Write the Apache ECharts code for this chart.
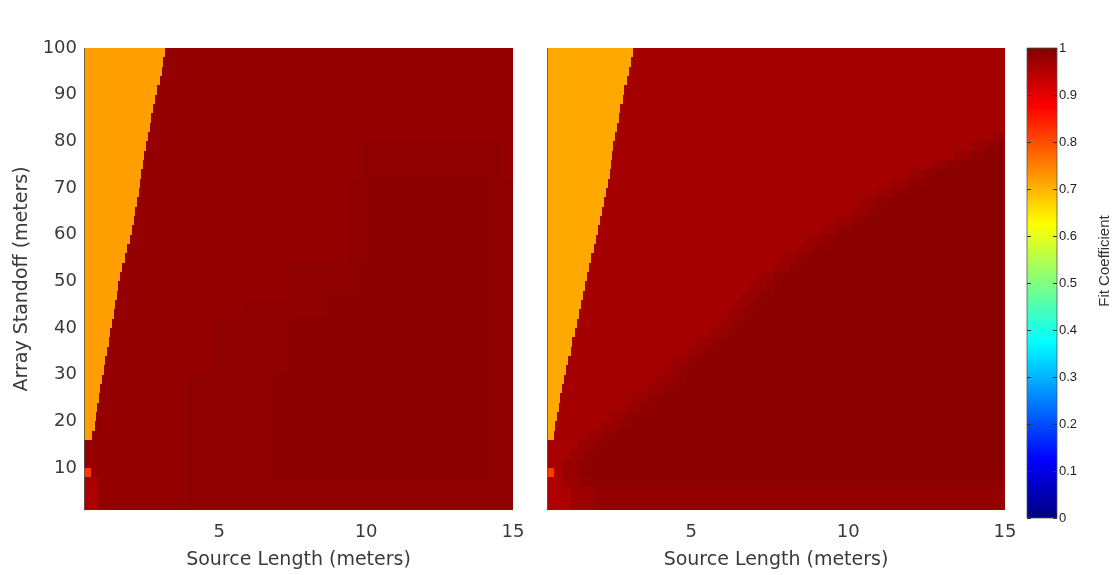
<!DOCTYPE html>
<html>
<head>
<meta charset="utf-8">
<script src="https://cdn.jsdelivr.net/npm/echarts@6/dist/echarts.min.js"></script>
<style>
  html, body { margin: 0; padding: 0; background: #ffffff; }
  #chart { width: 1118px; height: 575px; }
</style>
</head>
<body>
<div id="chart"></div>
<script>
// Sampling grid: source length column centres (m) and array standoff row centres (m, top row first)
const sourceLengths = Array.from({ length: 59 }, (_, i) => 0.5 + 0.25 * i);
const standoffs = Array.from({ length: 50 }, (_, i) => 99 - 2 * i);

// Tick labels
const xTicks = [5, 10, 15];
const yTicks = [10, 20, 30, 40, 50, 60, 70, 80, 90, 100];

// Fit coefficient of the low-fit (orange) zone in each panel
const leftLowFit = 0.72;
const rightLowFit = 0.71;

// Source length (m) where the low-fit zone ends, per standoff row (null: no low-fit zone)
const leftBoundary = [
  3.17, 3.10, 3.04, 2.97, 2.88, 2.82, 2.76, 2.68, 2.63, 2.57,
  2.51, 2.45, 2.41, 2.34, 2.30, 2.27, 2.21, 2.15, 2.09, 2.03,
  1.95, 1.88, 1.79, 1.71, 1.63, 1.57, 1.52, 1.47, 1.41, 1.36,
  1.30, 1.25, 1.19, 1.12, 1.07, 1.00, 0.96, 0.90, 0.85, 0.80,
  0.76, 0.66, null, null, null, null, null, null, null, null
];
const rightBoundary = [
  3.15, 3.09, 3.02, 2.94, 2.87, 2.81, 2.74, 2.69, 2.62, 2.56,
  2.50, 2.47, 2.44, 2.42, 2.35, 2.29, 2.21, 2.15, 2.09, 2.02,
  1.96, 1.89, 1.81, 1.75, 1.67, 1.61, 1.55, 1.48, 1.42, 1.35,
  1.28, 1.21, 1.15, 1.08, 1.02, 0.95, 0.89, 0.83, 0.78, 0.72,
  0.67, 0.61, null, null, null, null, null, null, null, null
];

// Fit coefficient for each level code used in the row strings below
const levelCodes = {
  a: 0.82,
  '0': 0.950, '1': 0.955, '2': 0.960, '3': 0.965, '4': 0.970,
  '5': 0.975, '6': 0.980, '7': 0.985, '8': 0.990, '9': 0.995
};

// Left panel high-fit field: one string per standoff row, runs of "count*code" along source length
const leftRows = [
  "59*6", "59*6", "59*6", "59*6", "59*6",
  "59*6", "59*6", "59*6", "59*6", "59*6",
  "38*6 19*7 2*6", "38*6 19*7 2*6", "38*6 19*7 2*6", "38*6 19*7 2*6",
  "36*6 3*7 16*8 4*7", "36*6 3*7 16*8 4*7", "36*6 3*7 16*8 4*7",
  "36*6 3*7 16*8 4*7", "36*6 3*7 16*8 4*7", "36*6 3*7 16*8 4*7",
  "36*6 3*7 16*8 4*7", "36*6 3*7 16*8 4*7", "36*6 3*7 16*8 4*7",
  "28*6 10*7 17*8 4*7", "28*6 10*7 17*8 4*7", "28*6 10*7 17*8 4*7",
  "28*6 10*7 17*8 4*7",
  "22*6 12*7 21*8 4*7", "22*6 12*7 21*8 4*7",
  "18*6 10*7 27*8 4*7", "18*6 10*7 27*8 4*7", "18*6 10*7 27*8 4*7",
  "18*6 10*7 27*8 4*7", "18*6 10*7 27*8 4*7", "18*6 10*7 27*8 4*7",
  "14*6 12*7 29*8 4*7", "14*6 12*7 29*8 4*7", "14*6 12*7 29*8 4*7",
  "14*6 12*7 29*8 4*7", "14*6 12*7 29*8 4*7", "14*6 12*7 29*8 4*7",
  "14*6 12*7 29*8 4*7", "14*6 12*7 29*8 4*7", "14*6 12*7 29*8 4*7",
  "14*6 12*7 29*8 4*7",
  "1*a 13*6 12*7 29*8 4*7",
  "2*2 12*6 45*7",
  "2*1 12*6 45*7", "2*1 12*6 45*7", "2*1 12*6 45*7"
];

// Right panel high-fit field, same layout
const rightRows = [
  "59*3", "59*3", "59*3", "59*3", "59*3", "59*3", "59*3", "59*3", "59*3",
  "57*3 2*5",
  "54*3 2*5 2*7 1*8",
  "52*3 2*5 2*7 3*8",
  "49*3 2*5 2*7 6*8",
  "46*3 2*5 2*7 9*8",
  "44*3 2*5 2*7 11*8",
  "42*3 2*5 2*7 13*8",
  "40*3 2*5 2*7 15*8",
  "39*3 2*5 2*7 16*8",
  "37*3 2*5 2*7 18*8",
  "35*3 2*5 2*7 20*8",
  "33*3 2*5 2*7 22*8",
  "32*3 2*5 2*7 23*8",
  "30*3 2*5 2*7 25*8",
  "29*3 2*5 2*7 26*8",
  "27*3 2*5 2*7 28*8",
  "26*3 2*5 2*7 29*8",
  "25*3 2*5 2*7 30*8",
  "24*3 2*5 2*7 31*8",
  "23*3 2*5 2*7 32*8",
  "22*3 2*5 2*7 33*8",
  "21*3 2*5 2*7 34*8",
  "19*3 2*5 2*7 36*8",
  "18*3 2*5 2*7 37*8",
  "16*3 2*5 2*7 39*8",
  "15*3 2*5 2*7 40*8",
  "14*3 2*5 2*7 41*8",
  "13*3 2*5 2*7 42*8",
  "11*3 2*5 2*7 44*8",
  "10*3 2*5 2*7 45*8",
  "8*3 2*5 2*7 47*8",
  "7*3 2*5 2*7 48*8",
  "5*3 2*5 2*7 50*8",
  "4*2 2*5 2*7 51*8",
  "3*2 2*5 2*7 52*8",
  "2*2 2*5 2*7 53*8",
  "1*a 1*2 2*5 2*7 53*8",
  "2*1 2*4 2*6 53*7",
  "3*1 3*4 53*6", "3*1 3*4 53*6", "3*1 3*4 53*6"
];

// Jet colour map stops, evenly spaced from 0 to 1
const jetColors = ['#000080', '#0000ff', '#0080ff', '#00ffff', '#80ff80',
                   '#ffff00', '#ff8000', '#ff0000', '#800000'];

const CELL_W = 0.25, CELL_H = 2;

// Expand run-length rows into [sourceLength, standoff, fit] triples
function decodeRows(rows) {
  const cells = [];
  rows.forEach((row, r) => {
    let c = 0;
    row.split(' ').forEach(tok => {
      const parts = tok.split('*');
      const count = parseInt(parts[0], 10);
      const v = levelCodes[parts[1]];
      for (let k = 0; k < count; k++) {
        cells.push([sourceLengths[c], standoffs[r], v]);
        c++;
      }
    });
  });
  return cells;
}

// One [edge, standoff, fit] item per row that has a low-fit zone
function boundaryItems(edges, fit) {
  const items = [];
  edges.forEach((e, r) => { if (e !== null) items.push([e, standoffs[r], fit]); });
  return items;
}

function clampRect(cs, x0, y0, x1, y1) {
  x0 = Math.max(Math.round(x0), cs.x);
  y0 = Math.max(Math.round(y0), cs.y);
  x1 = Math.min(Math.round(x1), cs.x + cs.width);
  y1 = Math.min(Math.round(y1), cs.y + cs.height);
  if (x1 <= x0 || y1 <= y0) return null;
  return { x: x0, y: y0, width: x1 - x0, height: y1 - y0 };
}

function cellRenderer(params, api) {
  const x = api.value(0), y = api.value(1);
  const a = api.coord([x - CELL_W / 2, y + CELL_H / 2]);
  const b = api.coord([x + CELL_W / 2, y - CELL_H / 2]);
  const shape = clampRect(params.coordSys, a[0], a[1], b[0], b[1]);
  if (!shape) return null;
  return { type: 'rect', shape: shape, style: { fill: api.visual('color') } };
}

// Low-fit zone: from the left edge of the plot to the row's boundary
function zoneRenderer(params, api) {
  const edge = api.value(0), y = api.value(1);
  const a = api.coord([edge, y + CELL_H / 2]);
  const b = api.coord([edge, y - CELL_H / 2]);
  const cs = params.coordSys;
  const shape = clampRect(cs, cs.x, a[1], a[0], b[1]);
  if (!shape) return null;
  return { type: 'rect', shape: shape, style: { fill: api.visual('color') } };
}

function colorbarRenderer(params, api) {
  const a = api.coord([0, 1]);
  const b = api.coord([1, 0]);
  return {
    type: 'rect',
    shape: { x: a[0], y: a[1], width: b[0] - a[0], height: b[1] - a[1] },
    style: {
      fill: new echarts.graphic.LinearGradient(0, 1, 0, 0,
        jetColors.map((c, i) => ({ offset: i / (jetColors.length - 1), color: c }))),
      stroke: '#555', lineWidth: 0.8
    }
  };
}

const tickFont = { fontFamily: 'DejaVu Sans', fontSize: 18, color: '#3a3a3a' };
const nameFont = { fontFamily: 'DejaVu Sans', fontSize: 19, color: '#3a3a3a' };

function panelXAxis(gridIndex) {
  return {
    type: 'value', gridIndex: gridIndex, min: 0.4, max: 15,
    name: 'Source Length (meters)', nameLocation: 'middle', nameGap: 41,
    nameTextStyle: nameFont,
    axisLine: { show: false }, axisTick: { show: false }, splitLine: { show: false },
    axisLabel: Object.assign({ customValues: xTicks, margin: 13 }, tickFont)
  };
}

function panelYAxis(gridIndex, withLabels) {
  return {
    type: 'value', gridIndex: gridIndex, min: 1, max: 100, z: 10,
    name: withLabels ? 'Array Standoff (meters)' : '',
    nameLocation: 'middle', nameGap: 52, nameTextStyle: nameFont,
    axisLine: { show: true, lineStyle: { color: '#555', type: 'dotted', width: 1 } },
    axisTick: { show: false }, splitLine: { show: false },
    axisLabel: Object.assign({ show: withLabels, customValues: yTicks, margin: 7 }, tickFont)
  };
}

const chart = echarts.init(document.getElementById('chart'), null, { renderer: 'canvas' });

chart.setOption({
  backgroundColor: '#ffffff',
  animation: false,
  grid: [
    { left: 84, top: 48, width: 429, height: 464 },
    { left: 547, top: 48, width: 458, height: 464 },
    { left: 1027, top: 48, width: 30, height: 470 }
  ],
  xAxis: [
    panelXAxis(0),
    panelXAxis(1),
    { type: 'value', gridIndex: 2, min: 0, max: 1, show: false }
  ],
  yAxis: [
    panelYAxis(0, true),
    panelYAxis(1, false),
    {
      type: 'value', gridIndex: 2, min: 0, max: 1, interval: 0.1, position: 'left', z: 10,
      axisLine: { show: false }, splitLine: { show: false }, axisLabel: { show: false },
      axisTick: { show: true, inside: true, length: 4, lineStyle: { color: '#333' } }
    },
    {
      type: 'value', gridIndex: 2, min: 0, max: 1, interval: 0.1, position: 'right', z: 10,
      axisLine: { show: false }, splitLine: { show: false },
      axisTick: { show: true, inside: true, length: 4, lineStyle: { color: '#333' } },
      axisLabel: { margin: 2, fontFamily: 'Liberation Sans', fontSize: 13, color: '#222' }
    }
  ],
  graphic: [{
    type: 'text', x: 1105, y: 261, rotation: Math.PI / 2,
    style: {
      text: 'Fit Coefficient', fontFamily: 'Liberation Sans', fontSize: 15,
      fill: '#333', align: 'center', verticalAlign: 'middle'
    }
  }],
  visualMap: {
    type: 'continuous', show: false, min: 0, max: 1, dimension: 2,
    seriesIndex: [0, 1, 2, 3],
    inRange: { color: jetColors }
  },
  series: [
    {
      type: 'custom', xAxisIndex: 0, yAxisIndex: 0, silent: true,
      renderItem: cellRenderer, data: decodeRows(leftRows)
    },
    {
      type: 'custom', xAxisIndex: 1, yAxisIndex: 1, silent: true,
      renderItem: cellRenderer, data: decodeRows(rightRows)
    },
    {
      type: 'custom', xAxisIndex: 0, yAxisIndex: 0, silent: true,
      renderItem: zoneRenderer, data: boundaryItems(leftBoundary, leftLowFit)
    },
    {
      type: 'custom', xAxisIndex: 1, yAxisIndex: 1, silent: true,
      renderItem: zoneRenderer, data: boundaryItems(rightBoundary, rightLowFit)
    },
    {
      type: 'custom', xAxisIndex: 2, yAxisIndex: 2, silent: true,
      renderItem: colorbarRenderer, data: [[0, 0]]
    }
  ]
});
</script>
</body>
</html>
